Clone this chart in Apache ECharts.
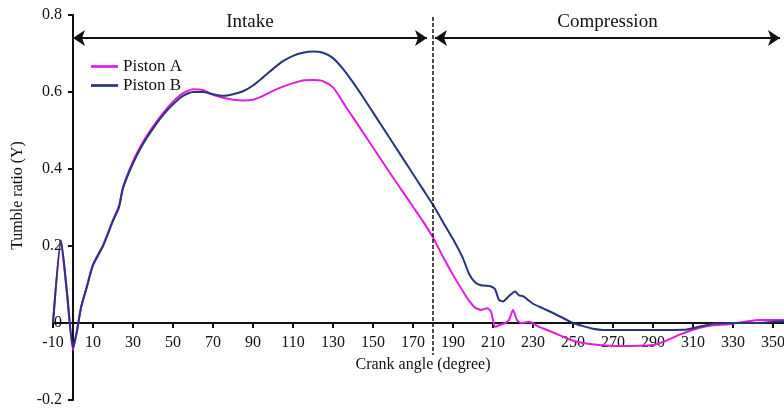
<!DOCTYPE html>
<html>
<head>
<meta charset="utf-8">
<title>Tumble ratio</title>
<script src="https://cdn.jsdelivr.net/npm/echarts@6/dist/echarts.min.js"></script>
<style>
  html, body { margin: 0; padding: 0; background: #fff; }
  #chart { width: 784px; height: 408px; }
</style>
</head>
<body>
<div id="chart"></div>
<script>
// values (crank angle in degrees, tumble ratio)
var angleA = [-10, -6, -3, 0, 2, 4, 7, 10, 15, 20, 23, 25, 30, 35, 40, 45, 50, 55, 60, 65,
  70, 75, 80, 85, 90, 95, 100, 105, 110, 115, 120, 125, 130, 133, 136, 140, 145, 150, 155, 160,
  165, 170, 175, 180, 185, 190, 195, 198, 201, 204, 207, 209, 211, 213, 216, 218, 220, 222, 224, 228,
  233, 238, 243, 249, 255, 263, 273, 290, 297, 303, 313, 320, 328, 336, 343, 356];
var tumbleA = [0, 0.21, 0.075, -0.07, -0.02, 0.04, 0.097, 0.152, 0.202, 0.268, 0.305, 0.353, 0.42, 0.47, 0.51, 0.545, 0.575, 0.597, 0.607, 0.605,
  0.593, 0.585, 0.58, 0.578, 0.58, 0.59, 0.603, 0.614, 0.623, 0.63, 0.631, 0.628, 0.612, 0.59, 0.565, 0.534, 0.495, 0.456, 0.417, 0.378,
  0.34, 0.302, 0.264, 0.222, 0.172, 0.125, 0.082, 0.058, 0.04, 0.034, 0.038, 0.03, -0.01, -0.006, 0, 0.008, 0.034, 0.008, 0, 0.003,
  -0.01, -0.02, -0.031, -0.044, -0.052, -0.057, -0.06, -0.057, -0.045, -0.031, -0.013, -0.006, -0.003, 0.003, 0.008, 0.008];

var angleB = [-10, -6, -3, 0, 2, 4, 7, 10, 15, 20, 23, 25, 30, 35, 40, 45, 50, 55, 60, 65,
  70, 75, 80, 85, 90, 95, 100, 105, 110, 115, 120, 125, 130, 135, 140, 145, 150, 155, 160, 165,
  170, 175, 180, 185, 190, 195, 198, 201, 204, 209, 211, 213, 215, 218, 221, 223, 225, 227, 230, 235,
  240, 245, 250, 255, 260, 265, 280, 300, 307, 313, 320, 330, 340, 350, 356];
var tumbleB = [0, 0.215, 0.08, -0.065, -0.02, 0.04, 0.095, 0.15, 0.2, 0.265, 0.3, 0.35, 0.415, 0.465, 0.505, 0.54, 0.568, 0.59, 0.6, 0.6,
  0.594, 0.59, 0.594, 0.602, 0.617, 0.638, 0.66, 0.68, 0.694, 0.702, 0.705, 0.702, 0.688, 0.66, 0.625, 0.587, 0.547, 0.507, 0.467, 0.427,
  0.387, 0.347, 0.307, 0.262, 0.218, 0.168, 0.128, 0.106, 0.098, 0.095, 0.088, 0.06, 0.056, 0.07, 0.082, 0.072, 0.07, 0.062, 0.05, 0.038,
  0.026, 0.013, 0, -0.008, -0.015, -0.018, -0.018, -0.018, -0.017, -0.01, -0.002, 0, 0, 0.003, 0.005];

// engine phases shown as arrows along the top
var phaseNames = ['Intake', 'Compression'];
var phaseStart = [0, 181];
var phaseEnd = [177, 353.5];
var arrowLevel = 0.74;

// top dead centre marker
var tdcAngle = 180;
var tdcTop = 0.795;
var tdcBottom = -0.083;

var serif = 'Liberation Serif';
var ink = '#111';
var colorA = '#e020d8';
var colorB = '#27347e';

function pairs(xs, ys) {
  return xs.map(function (x, i) { return [x, ys[i]]; });
}

var chart = echarts.init(document.getElementById('chart'));

// note: labels and names stay on the grid edge even with onZero,
// so the margins below pull them back next to the zero lines
chart.setOption({
  animation: false,
  backgroundColor: '#fff',
  grid: { left: 53, right: -9, top: 15, bottom: 8, containLabel: false, outerBoundsMode: 'none' },
  legend: {
    data: ['Piston A', 'Piston B'],
    orient: 'vertical',
    left: 86,
    top: 53,
    itemWidth: 27,
    itemHeight: 14,
    itemGap: 2,
    icon: 'path://M0,0H30V3H0Z',
    textStyle: { fontFamily: serif, fontSize: 17, color: ink, lineHeight: 16 }
  },
  xAxis: {
    type: 'value',
    min: -10,
    max: 360,
    interval: 20,
    name: 'Crank angle (degree)',
    nameLocation: 'middle',
    nameGap: -43,
    nameTextStyle: { fontFamily: serif, fontSize: 16, color: ink },
    axisLine: { onZero: true, lineStyle: { color: ink, width: 2 } },
    axisTick: { length: 5, lineStyle: { color: ink, width: 2 } },
    axisLabel: { showMaxLabel: false, margin: -65, fontFamily: serif, fontSize: 16, color: ink },
    splitLine: { show: false }
  },
  yAxis: {
    type: 'value',
    min: -0.2,
    max: 0.8,
    interval: 0.2,
    name: 'Tumble ratio (Y)',
    nameLocation: 'middle',
    nameGap: 27,
    nameTextStyle: { fontFamily: serif, fontSize: 16, color: ink, padding: [0, 0, 0, 24] },
    axisLine: { onZero: true, lineStyle: { color: ink, width: 2 } },
    axisTick: { length: 5, lineStyle: { color: ink, width: 2 } },
    axisLabel: {
      margin: -9,
      fontFamily: serif,
      fontSize: 16,
      color: ink,
      formatter: function (v) { return Math.abs(v) < 1e-9 ? '0' : v.toFixed(1); }
    },
    splitLine: { show: false }
  },
  series: [
    {
      name: 'Piston A',
      type: 'line',
      data: pairs(angleA, tumbleA),
      showSymbol: false,
      symbol: 'none',
      smooth: 0.2,
      lineStyle: { color: colorA, width: 2 },
      itemStyle: { color: colorA }
    },
    {
      name: 'Piston B',
      type: 'line',
      data: pairs(angleB, tumbleB),
      showSymbol: false,
      symbol: 'none',
      smooth: 0.2,
      lineStyle: { color: colorB, width: 2 },
      itemStyle: { color: colorB }
    },
    {
      // phase arrows
      name: 'phases',
      type: 'line',
      data: [],
      markLine: {
        silent: true,
        symbol: ['arrow', 'arrow'],
        symbolSize: 12,
        lineStyle: { color: ink, width: 2, type: 'solid' },
        label: {
          show: true,
          position: 'middle',
          formatter: '{b}',
          distance: 7,
          fontFamily: serif,
          fontSize: 19,
          color: ink
        },
        data: phaseNames.map(function (n, i) {
          return [{ name: n, coord: [phaseStart[i], arrowLevel] }, { coord: [phaseEnd[i], arrowLevel] }];
        })
      }
    },
    {
      // dashed TDC line
      name: 'tdc',
      type: 'line',
      data: [],
      markLine: {
        silent: true,
        symbol: ['none', 'none'],
        lineStyle: { color: ink, width: 1.5, type: [4, 2] },
        label: { show: false },
        data: [[{ coord: [tdcAngle, tdcTop] }, { coord: [tdcAngle, tdcBottom] }]]
      }
    }
  ]
});
</script>
</body>
</html>
